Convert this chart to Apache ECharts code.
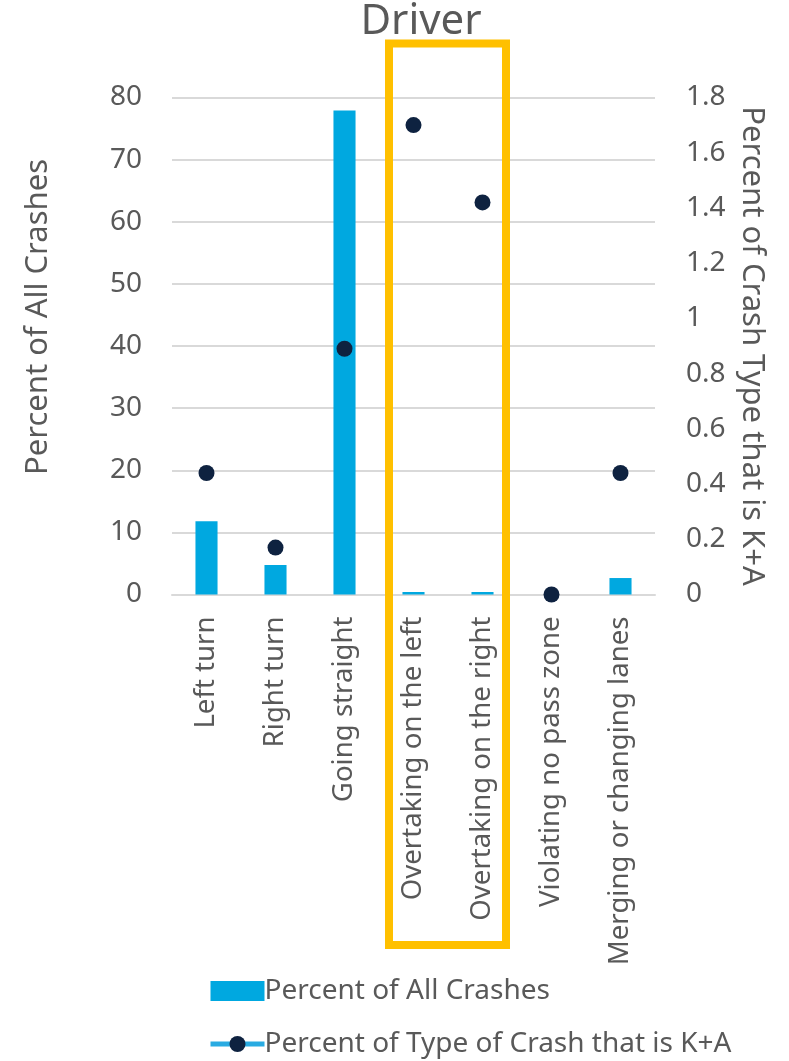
<!DOCTYPE html>
<html>
<head>
<meta charset="utf-8">
<script src="https://cdn.jsdelivr.net/npm/echarts@6/dist/echarts.min.js"></script>
<style>html,body{margin:0;padding:0;background:#fff;}#c{width:789px;height:1061px;}</style>
</head>
<body>
<div id="c"></div>
<script>
const categories = ['Left turn','Right turn','Going straight','Overtaking on the left','Overtaking on the right','Violating no pass zone','Merging or changing lanes'];
const pctAllCrashes = [11.8, 4.75, 77.9, 0.4, 0.4, 0, 2.65];
const pctKA = [0.44, 0.17, 0.89, 1.70, 1.42, 0, 0.44];
const leftTicks = {min:0, max:80, interval:10};
const rightTicks = {min:0, max:1.8, interval:0.2};

const FONT = '"Noto Sans", "Open Sans", sans-serif';
const TXT = '#595959';
const chart = echarts.init(document.getElementById('c'), null, {renderer:'canvas'});
chart.setOption({
  animation:false,
  backgroundColor:'#fff',
  textStyle:{fontFamily:FONT},
  title:{text:'Driver', left:416, textAlign:'center', top:-4,
    textStyle:{fontFamily:FONT, fontSize:42, fontWeight:'normal', color:TXT}},
  grid:{left:172, right:134, top:97.5, bottom:466.5},
  legend:{
    orient:'vertical', left:208, top:977, padding:0, itemGap:25, itemWidth:54, itemHeight:20,
    textStyle:{fontFamily:FONT, fontSize:28, color:TXT, padding:[0,0,0,-5]},
    data:[
      {name:'Percent of All Crashes', icon:'rect'},
      {name:'Percent of Type of Crash that is K+A', lineStyle:{color:'#29ABE2', width:5, opacity:1}}
    ]
  },
  xAxis:{type:'category', data:categories,
    axisLine:{show:true, lineStyle:{color:'#D9D9D9', width:2}},
    axisTick:{show:false},
    axisLabel:{rotate:90, interval:0, margin:22, fontFamily:FONT, fontSize:27.6, color:TXT}
  },
  yAxis:[
    {type:'value', min:leftTicks.min, max:leftTicks.max, interval:leftTicks.interval,
     name:'Percent of All Crashes', nameLocation:'middle', nameGap:118, nameRotate:90,
     nameTextStyle:{fontFamily:FONT, fontSize:31, color:TXT, padding:[0,0,0,58]},
     axisLine:{show:false}, axisTick:{show:false},
     axisLabel:{margin:30, fontFamily:FONT, fontSize:28, color:TXT},
     splitLine:{lineStyle:{color:'#D9D9D9', width:2}}},
    {type:'value', min:rightTicks.min, max:rightTicks.max, interval:rightTicks.interval,
     name:'Percent of Crash Type that is K+A', nameLocation:'middle', nameGap:72, nameRotate:-90,
     nameTextStyle:{fontFamily:FONT, fontSize:31, color:TXT},
     axisLine:{show:false}, axisTick:{show:false},
     axisLabel:{margin:31, fontFamily:FONT, fontSize:28, color:TXT},
     splitLine:{show:false}}
  ],
  series:[
    {name:'Percent of All Crashes', type:'bar', yAxisIndex:0, data:pctAllCrashes,
     barWidth:'32%', itemStyle:{color:'#00A8E0'}},
    {name:'Percent of Type of Crash that is K+A', type:'line', yAxisIndex:1, data:pctKA,
     symbol:'circle', symbolSize:16, showSymbol:true,
     lineStyle:{width:0, opacity:0, color:'#29ABE2'},
     itemStyle:{color:'#0E2240', borderWidth:0}}
  ],
  graphic:[
    {type:'rect', shape:{x:389, y:43.5, width:117, height:901.5},
     style:{fill:'none', stroke:'#FFC000', lineWidth:8}, z:100}
  ]
});
</script>
</body>
</html>
